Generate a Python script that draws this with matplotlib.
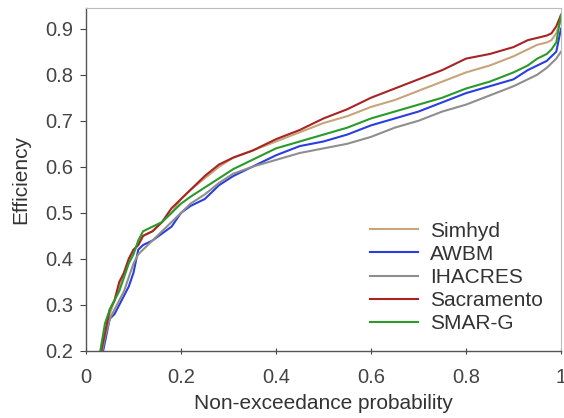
import matplotlib
matplotlib.use("Agg")
import matplotlib.pyplot as plt

plt.rcParams['font.family'] = ['Liberation Sans', 'DejaVu Sans']

x = [0.03, 0.04, 0.05, 0.06, 0.07, 0.08, 0.09, 0.10, 0.11, 0.12, 0.14, 0.16, 0.18,
     0.20, 0.22, 0.25, 0.28, 0.31, 0.35, 0.40, 0.45, 0.50, 0.55, 0.60, 0.65, 0.70,
     0.75, 0.80, 0.85, 0.90, 0.93, 0.95, 0.97, 0.98, 0.99, 1.0]

simhyd = [0.18, 0.23, 0.28, 0.31, 0.34, 0.37, 0.40, 0.42, 0.43, 0.45, 0.46, 0.48, 0.50,
          0.53, 0.55, 0.575, 0.60, 0.62, 0.635, 0.655, 0.675, 0.695, 0.71, 0.73, 0.745, 0.765,
          0.785, 0.805, 0.82, 0.84, 0.855, 0.865, 0.87, 0.875, 0.89, 0.92]
awbm = [0.17, 0.22, 0.27, 0.28, 0.30, 0.32, 0.34, 0.37, 0.42, 0.43, 0.44, 0.455, 0.47,
        0.50, 0.515, 0.53, 0.56, 0.58, 0.60, 0.625, 0.645, 0.655, 0.67, 0.69, 0.705, 0.72,
        0.74, 0.76, 0.775, 0.79, 0.81, 0.82, 0.83, 0.84, 0.85, 0.90]
ihacres = [0.18, 0.23, 0.27, 0.29, 0.31, 0.33, 0.36, 0.39, 0.41, 0.42, 0.44, 0.46, 0.48,
           0.50, 0.52, 0.54, 0.565, 0.585, 0.60, 0.615, 0.63, 0.64, 0.65, 0.665, 0.685, 0.70,
           0.72, 0.735, 0.755, 0.775, 0.79, 0.80, 0.815, 0.825, 0.835, 0.85]
sacramento = [0.19, 0.24, 0.29, 0.31, 0.35, 0.37, 0.40, 0.42, 0.43, 0.45, 0.46, 0.48, 0.51,
              0.53, 0.55, 0.58, 0.605, 0.62, 0.635, 0.66, 0.68, 0.705, 0.725, 0.75, 0.77, 0.79,
              0.81, 0.835, 0.845, 0.86, 0.875, 0.88, 0.885, 0.89, 0.905, 0.93]
smarg = [0.20, 0.26, 0.29, 0.31, 0.33, 0.36, 0.39, 0.41, 0.44, 0.46, 0.47, 0.48, 0.50,
         0.52, 0.535, 0.555, 0.575, 0.595, 0.615, 0.64, 0.655, 0.67, 0.685, 0.705, 0.72, 0.735,
         0.75, 0.77, 0.785, 0.805, 0.82, 0.835, 0.845, 0.855, 0.87, 0.93]

names = ["Simhyd", "AWBM", "IHACRES", "Sacramento", "SMAR-G"]
series = [simhyd, awbm, ihacres, sacramento, smarg]
colors = ["#c8a47a", "#2a3ee0", "#8e8e8e", "#a82424", "#2a9a2a"]

xticks = [0, 0.2, 0.4, 0.6, 0.8, 1]
xticklabels = ["0", "0.2", "0.4", "0.6", "0.8", "1"]
yticks = [0.2, 0.3, 0.4, 0.5, 0.6, 0.7, 0.8, 0.9]

fig = plt.figure(figsize=(5.64, 4.18), dpi=100)
ax = fig.add_axes([0.1525, 0.1603, 0.8422, 0.8207])
for name, ys, c in zip(names, series, colors):
    ax.plot(x, ys, color=c, lw=1.5, label=name)

ax.set_xlim(0, 1)
ax.set_ylim(0.2, 0.945)
ax.set_xticks(xticks)
ax.set_xticklabels(xticklabels)
ax.set_yticks(yticks)
ax.set_yticklabels([f"{v:.1f}" for v in yticks])
ax.tick_params(axis='both', labelsize=14.5, colors='#444444', length=4, width=0.8)
ax.tick_params(axis='x', direction='inout', pad=10)
ax.tick_params(axis='y', pad=5)
for s in ['left', 'bottom']:
    ax.spines[s].set_color('#555555')
    ax.spines[s].set_linewidth(1.0)
for s in ['top', 'right']:
    ax.spines[s].set_color('#bbbbbb')
    ax.spines[s].set_linewidth(0.8)
ax.set_xlabel("Non-exceedance probability", fontsize=15, color='#333333', labelpad=5)
ax.set_ylabel("Efficiency", fontsize=15, color='#333333', labelpad=11)
ax.legend(loc='lower right', frameon=False, fontsize=15, handlelength=2.3,
          handletextpad=0.6, labelspacing=0.2, borderaxespad=0.45,
          labelcolor='#333333')

fig.savefig("out.png", dpi=100)
